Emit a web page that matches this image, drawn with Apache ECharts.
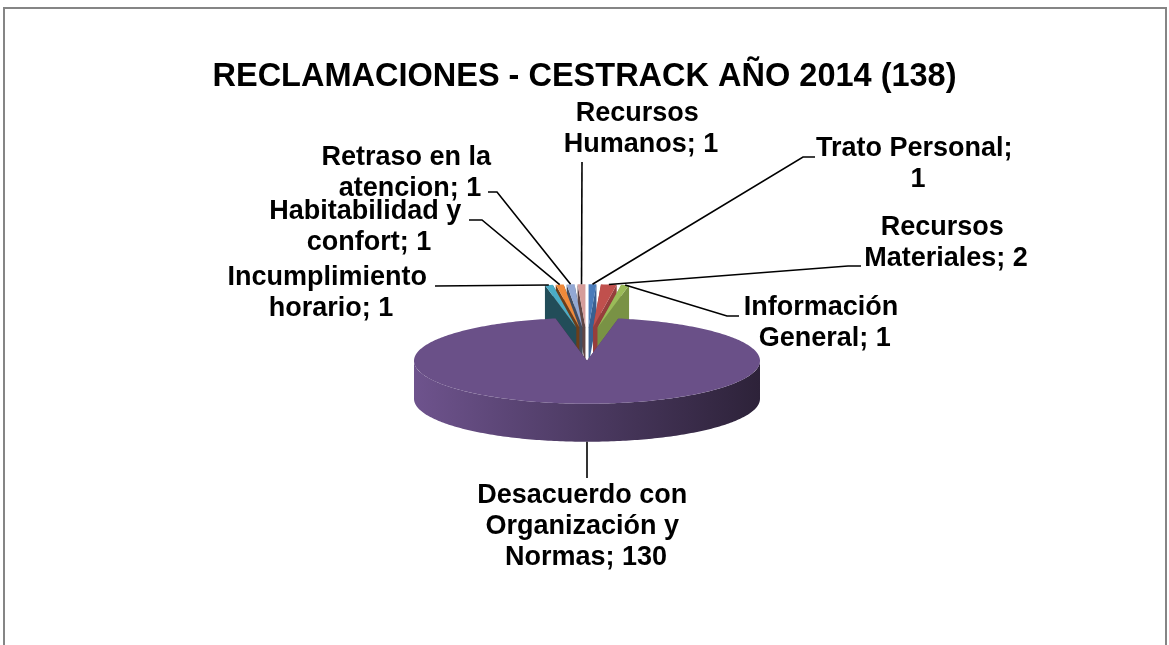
<!DOCTYPE html>
<html><head><meta charset="utf-8">
<script src="https://cdn.jsdelivr.net/npm/echarts@6/dist/echarts.min.js"></script>
<style>html,body{margin:0;padding:0;background:#fff}#main{width:1169px;height:645px}</style>
</head><body><div id="main"></div>
<script>
// ---------- data ----------
const titleText = 'RECLAMACIONES - CESTRACK AÑO 2014 (138)';
const categories = ['Trato Personal', 'Recursos Materiales', 'Información General',
  'Desacuerdo con Organización y Normas', 'Incumplimiento horario',
  'Habitabilidad y confort', 'Retraso en la atencion', 'Recursos Humanos'];
const values = [1, 2, 1, 130, 1, 1, 1, 1];
const colors = ['#4A7BBA', '#C0504D', '#9BBB59', '#6A5088', '#4BACC6', '#F08A3A', '#92A8D4', '#D59C9A'];

// ---------- layout (positions / styles only) ----------
const PIE = { cx: 587, cy: 344, rx: 173, ry: 43, h: 38, explode: 0.39 };
const FONT = 'bold 27px "Liberation Sans", Arial, sans-serif';
const labelLayout = [
  { x: 918, y: 164, w: 206, path: [[803, 157], [815, 157]] },
  { x: 946, y: 243, w: 174, path: [[848, 266], [861, 266]] },
  { x: 821, y: 323, w: 166, path: [[727, 316], [739, 316]] },
  { x: 586, y: 527, w: 222, path: [[587, 478]] },
  { x: 331, y: 293, w: 210, path: [[435, 286]] },
  { x: 369, y: 227, w: 202, path: [[482, 220], [469, 220]] },
  { x: 410, y: 173, w: 182, path: [[497, 192], [488, 192]] },
  { x: 641, y: 129, w: 166, path: [[582, 162]] }
];

const total = values.reduce((a, b) => a + b, 0);
const cumStart = values.map((v, i) => values.slice(0, i).reduce((a, b) => a + b, 0));

function shade(hex, f) {
  const n = parseInt(hex.slice(1), 16);
  const r = Math.round(((n >> 16) & 255) * f), g = Math.round(((n >> 8) & 255) * f), b = Math.round((n & 255) * f);
  return 'rgb(' + Math.min(255, r) + ',' + Math.min(255, g) + ',' + Math.min(255, b) + ')';
}

function renderItem(params, api) {
  const i = params.dataIndex;
  const v = api.value(0);
  const a0 = cumStart[i] / total * Math.PI * 2;
  const a1 = (cumStart[i] + v) / total * Math.PI * 2;
  const am = (a0 + a1) / 2;
  const e = PIE.explode;
  const C = [PIE.cx + e * PIE.rx * Math.sin(am), PIE.cy - e * PIE.ry * Math.cos(am)];
  const pt = (t, dz) => [C[0] + PIE.rx * Math.sin(t), C[1] - PIE.ry * Math.cos(t) + (dz || 0)];
  const arc = (t0, t1, dz) => {
    const n = Math.max(2, Math.ceil(Math.abs(t1 - t0) / (Math.PI / 180)));
    const out = [];
    for (let k = 0; k <= n; k++) out.push(pt(t0 + (t1 - t0) * k / n, dz));
    return out;
  };
  const front = Math.cos(am) < 0;
  const base = front ? 100 : 0;
  const col = colors[i];
  const children = [];
  // radial faces
  [a0, a1].forEach((t) => {
    const p = pt(t, 0), q = pt(t, PIE.h);
    let deg = t * 180 / Math.PI; if (deg > 180) deg -= 360;
    children.push({
      type: 'polygon', z2: base + 10 + Math.abs(deg) * 0.5,
      shape: { points: [C, p, q, [C[0], C[1] + PIE.h]] },
      style: { fill: shade(col, deg < 0 ? 0.45 : 0.78) }
    });
  });
  // outer side (front part only)
  const s0 = Math.max(a0, Math.PI / 2), s1 = Math.min(a1, Math.PI * 1.5);
  if (s1 > s0) {
    const top = arc(s0, s1, 0), bot = arc(s1, s0, PIE.h);
    children.push({
      type: 'polygon', z2: base + 40,
      shape: { points: top.concat(bot) },
      style: {
        fill: new echarts.graphic.LinearGradient(1, 0, 0, 0, [
          { offset: 0, color: shade(col, 0.42) },
          { offset: 0.5, color: shade(col, 0.72) },
          { offset: 1, color: shade(col, 1.04) }
        ])
      }
    });
  }
  // top face
  children.push({
    type: 'polygon', z2: base + 50,
    shape: { points: [C].concat(arc(a0, a1, 0)) },
    style: { fill: col }
  });
  // label + leader
  const L = labelLayout[i];
  const anchor = pt(am, front ? PIE.h : 0);
  children.push({
    type: 'polyline', z2: 300,
    shape: { points: [anchor].concat(L.path) },
    style: { stroke: '#000', lineWidth: 1.6, fill: null }
  });
  children.push({
    type: 'text', z2: 300,
    style: {
      text: categories[i] + '; ' + v, x: L.x, y: L.y, width: L.w, overflow: 'break',
      align: 'center', verticalAlign: 'middle', font: FONT, lineHeight: 31, fill: '#000'
    }
  });
  return { type: 'group', children };
}

const chart = echarts.init(document.getElementById('main'), null, { renderer: 'canvas' });
chart.setOption({
  backgroundColor: '#fff',
  animation: false,
  title: {
    text: titleText, left: 'center', top: 56,
    textStyle: { fontSize: 32.5, fontWeight: 'bold', color: '#000', fontFamily: '"Liberation Sans", Arial, sans-serif' }
  },
  graphic: [{
    type: 'rect', shape: { x: 4, y: 8, width: 1162, height: 700 },
    style: { fill: null, stroke: '#858585', lineWidth: 2 }, silent: true
  }],
  series: [{
    type: 'custom', coordinateSystem: 'none', silent: true,
    renderItem: renderItem,
    data: values.map(v => [v])
  }]
});
</script></body></html>
